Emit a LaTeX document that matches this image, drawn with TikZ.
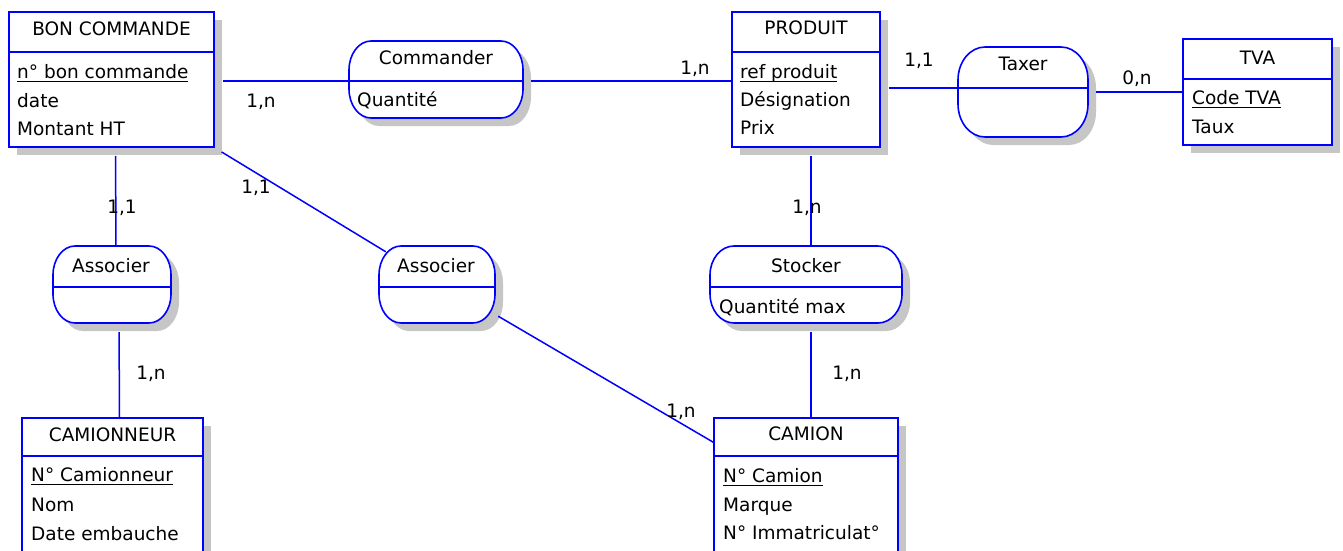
\documentclass[tikz,border=0pt]{standalone}
\usepackage{fontspec}
\setmainfont{DejaVu Sans}
\usetikzlibrary{fit,shadows}
\definecolor{mcdblue}{RGB}{0,0,255}
\definecolor{mcdshade}{RGB}{198,198,198}
% identifier attribute: text with a thick rule under it
\newcommand\pkey[1]{\setbox0\hbox{#1}\rlap{\rule[-3.2pt]{\wd0}{1.3pt}}\box0}
% association outline: flat top and bottom, elliptical end caps
% #1 x1, #2 y1, #3 x2, #4 y2, #5 corner x radius, #6 corner y radius
\newcommand\assooutline[6]{%
  ({#1+#5},#2) -- ({#3-#5},#2)
  .. controls ({#3-0.4477*#5},#2) and (#3,{#2+0.4477*#6}) .. (#3,{#2+#6})
  -- (#3,{#4-#6})
  .. controls (#3,{#4-0.4477*#6}) and ({#3-0.4477*#5},#4) .. ({#3-#5},#4)
  -- ({#1+#5},#4)
  .. controls ({#1+0.4477*#5},#4) and (#1,{#4-0.4477*#6}) .. (#1,{#4-#6})
  -- (#1,{#2+#6})
  .. controls (#1,{#2+0.4477*#6}) and ({#1+0.4477*#5},#2) .. ({#1+#5},#2) -- cycle}
% shadow, outline and a named frame node for one association
\newcommand\assobox[7]{%
  \fill[mcdshade, shift={(8,8)}] \assooutline{#2}{#3}{#4}{#5}{#6}{#7};
  \filldraw[draw=mcdblue, fill=white, line width=1.6pt] \assooutline{#2}{#3}{#4}{#5}{#6}{#7};
  \node[fit={(#2,#3) (#4,#5)}, inner sep=0pt] (#1) {};}
\begin{document}
\begin{tikzpicture}[x=1pt,y=-1pt,
  ent/.style={draw=mcdblue, line width=1.6pt, fill=white, inner sep=0pt,
    drop shadow={shadow xshift=8pt, shadow yshift=-8pt, fill=mcdshade, opacity=1}},
  sepline/.style={draw=mcdblue, line width=1.6pt},
  link/.style={draw=mcdblue, line width=1.5pt},
  txt/.style={inner sep=0pt, text height=13.5pt, text depth=0pt,
    font=\fontsize{18.5pt}{22pt}\selectfont},
  attr/.style={txt, anchor=west},
  ttl/.style={txt, anchor=center},
  card/.style={txt, anchor=center},
]
\useasboundingbox (0,0) rectangle (1343,551);
\clip (0,0) rectangle (1343,551);
\fill[white] (0,0) rectangle (1343,551);

% ---------------- entities ----------------
% BON COMMANDE
\node[ent, fit={(9,12) (214,147)}] (bon) {};
\draw[sepline] (bon.west |- 0,52) -- (bon.east |- 0,52);
\node[ttl] (bonT) at (111.5,29) {BON COMMANDE};
\node[attr] (bonA1) at (17,72) {\pkey{n° bon commande}};
\node[attr] (bonA2) at (17,101) {date};
\node[attr] (bonA3) at (17,129) {Montant HT};

% PRODUIT
\node[ent, fit={(732,12) (880,147)}] (prod) {};
\draw[sepline] (prod.west |- 0,52) -- (prod.east |- 0,52);
\node[ttl] (prodT) at (806,28) {PRODUIT};
\node[attr] (prodA1) at (740,72) {\pkey{ref produit}};
\node[attr] (prodA2) at (740,100) {Désignation};
\node[attr] (prodA3) at (740,128) {Prix};

% TVA
\node[ent, fit={(1183,39) (1332,145)}] (tva) {};
\draw[sepline] (tva.west |- 0,79) -- (tva.east |- 0,79);
\node[ttl] (tvaT) at (1257.5,58) {TVA};
\node[attr] (tvaA1) at (1192,98) {\pkey{Code TVA}};
\node[attr] (tvaA2) at (1192,127) {Taux};

% CAMIONNEUR
\node[ent, fit={(22,418) (203,553)}] (cmr) {};
\draw[sepline] (cmr.west |- 0,456) -- (cmr.east |- 0,456);
\node[ttl] (cmrT) at (112.5,435) {CAMIONNEUR};
\node[attr] (cmrA1) at (31,475) {\pkey{N° Camionneur}};
\node[attr] (cmrA2) at (31,505) {Nom};
\node[attr] (cmrA3) at (31,534) {Date embauche};

% CAMION
\node[ent, fit={(714,418) (898,553)}] (cam) {};
\draw[sepline] (cam.west |- 0,456) -- (cam.east |- 0,456);
\node[ttl] (camT) at (806,434) {CAMION};
\node[attr] (camA1) at (723,476) {\pkey{N° Camion}};
\node[attr] (camA2) at (723,505) {Marque};
\node[attr] (camA3) at (723,533) {N° Immatriculat°};

% ---------------- associations ----------------
% Commander
\assobox{cmd}{349}{41}{523}{118}{22}{29}
\path (cmd.west |- 0,81) coordinate (cmdL) (cmd.east |- 0,81) coordinate (cmdR);
\draw[sepline] (cmdL) -- (cmdR);
\node[ttl] (cmdT) at (436,58) {Commander};
\node[attr] (cmdA1) at (357,100) {Quantité};

% Taxer
\assobox{tax}{958}{47}{1088}{137}{27}{33}
\path (tax.west |- 0,88) coordinate (taxL) (tax.east |- 0,88) coordinate (taxR);
\draw[sepline] (taxL) -- (taxR);
\node[ttl] (taxT) at (1023,64) {Taxer};

% Associer (BON COMMANDE - CAMIONNEUR)
\assobox{as1}{53}{246}{171}{323}{22}{29}
\draw[sepline] (as1.west |- 0,287) -- (as1.east |- 0,287);
\node[ttl] (as1T) at (111,266) {Associer};

% Associer (BON COMMANDE - CAMION)
\assobox{as2}{379}{246}{495}{323}{22}{29}
\draw[sepline] (as2.west |- 0,287) -- (as2.east |- 0,287);
\node[ttl] (as2T) at (436,266) {Associer};

% Stocker
\assobox{stk}{710}{246}{902}{323}{24}{29}
\draw[sepline] (stk.west |- 0,287) -- (stk.east |- 0,287);
\node[ttl] (stkT) at (806,266) {Stocker};
\node[attr] (stkA1) at (719,307) {Quantité max};

% ---------------- links ----------------
\draw[link, shorten <=8pt] (bon.east |- cmdL) -- (cmdL);
\draw[link, shorten <=8pt] (cmdR) -- (cmdR -| prod.west);
\draw[link, shorten <=8pt] (prod.east |- taxL) -- (taxL);
\draw[link, shorten <=8pt] (tax.east |- tva.west) -- (tva.west);
\draw[link, shorten <=8pt] ([xshift=4pt]bon.south) -- ([xshift=4pt]as1.north);
\draw[link, shorten <=9pt] ([xshift=7pt]as1.south) -- ([xshift=7pt]cmr.north);
\draw[link, shorten <=8pt] (bon.south east) -- ([shift={(7,6)}]as2.north west);
\draw[link] ([shift={(3,-7)}]as2.south east) -- ([shift={(0,25)}]cam.north west);
\draw[link, shorten <=8pt] ([xshift=5pt]prod.south) -- ([xshift=5pt]stk.north);
\draw[link, shorten <=9pt] ([xshift=5pt]stk.south) -- ([xshift=5pt]cam.north);

% ---------------- cardinalities ----------------
\node[card] (k1) at (261,101) {1,n};
\node[card] (k2) at (695,68) {1,n};
\node[card] (k3) at (919,60) {1,1};
\node[card] (k4) at (1137,78) {0,n};
\node[card] (k5) at (122,207) {1,1};
\node[card] (k6) at (256,187) {1,1};
\node[card] (k7) at (151,373) {1,n};
\node[card] (k8) at (807,207) {1,n};
\node[card] (k9) at (847,373) {1,n};
\node[card] (k10) at (681,411) {1,n};
\end{tikzpicture}
\end{document}
